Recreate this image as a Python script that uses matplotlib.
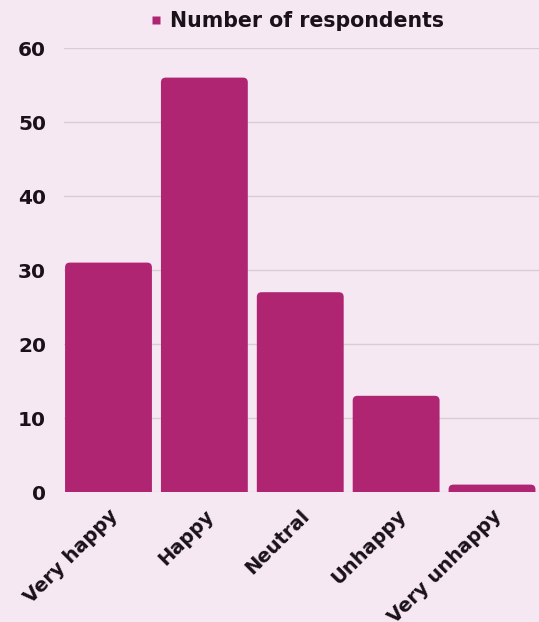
import matplotlib
matplotlib.use("Agg")
import matplotlib.pyplot as plt
from matplotlib.patches import FancyBboxPatch
from matplotlib.lines import Line2D

categories = ["Very happy", "Happy", "Neutral", "Unhappy", "Very unhappy"]
respondents = [31, 56, 27, 13, 1]
series_name = "Number of respondents"
y_ticks = [0, 10, 20, 30, 40, 50, 60]

bg = "#f5e8f2"
bar_color = "#b02572"
text_color = "#1a1218"
grid_color = "#d8ccd5"

plt.rcParams["font.family"] = ["DejaVu Sans"]

W, H = 539, 622
fig = plt.figure(figsize=(W / 100, H / 100), dpi=100, facecolor=bg)
# axes box in pixels: left 64, right 539, top 48, bottom 492
ax = fig.add_axes([64 / W, (H - 492) / H, (539 - 64) / W, (492 - 48) / H], facecolor=bg)

ax.set_xlim(-0.464, 4.49)
ax.set_ylim(0, 60)

bar_w = 0.906
for i, v in enumerate(respondents):
    patch = FancyBboxPatch(
        (i - bar_w / 2, -3), bar_w, v + 3,
        boxstyle="round,pad=0,rounding_size=0.05",
        mutation_aspect=13,
        facecolor=bar_color, edgecolor="none", zorder=3, clip_on=True,
    )
    ax.add_patch(patch)

ax.set_yticks(y_ticks)
ax.set_yticklabels([str(t) for t in y_ticks], fontsize=14.5, fontweight="bold", color=text_color)
ax.set_xticks(range(len(categories)))
ax.set_xticklabels(categories, rotation=45, ha="right", rotation_mode="anchor",
                   fontsize=14, fontweight="bold", color=text_color)
ax.tick_params(axis="both", length=0)
ax.tick_params(axis="y", pad=13)
ax.tick_params(axis="x", pad=10)

ax.grid(axis="y", color=grid_color, linewidth=1, zorder=0)
ax.set_axisbelow(True)
for s in ax.spines.values():
    s.set_visible(False)

handle = Line2D([], [], marker="s", linestyle="none", markersize=6,
                markerfacecolor=bar_color, markeredgecolor="none")
leg = fig.legend([handle], [series_name], loc="center", bbox_to_anchor=(294 / W, 1 - 21 / H),
                 frameon=False, handletextpad=0.1, handlelength=1.2,
                 borderpad=0, prop={"size": 14.8, "weight": "bold"})
for t in leg.get_texts():
    t.set_color(text_color)

fig.savefig("out.png", dpi=100, facecolor=bg)
